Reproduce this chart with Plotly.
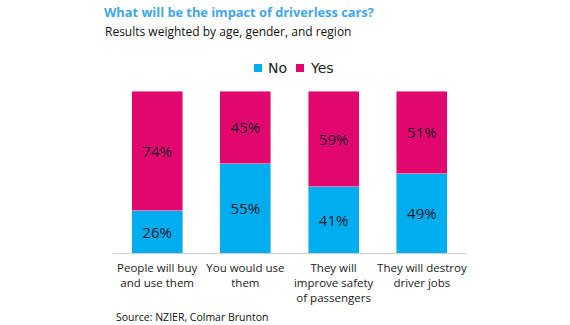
import plotly.graph_objects as go

categories = ["People will buy<br>and use them", "You would use<br>them",
              "They will<br>improve safety<br>of passengers", "They will destroy<br>driver jobs"]
no_vals = [26, 55, 41, 49]
yes_vals = [74, 45, 59, 51]
series_names = ["No", "Yes"]
series_colors = ["#00AEEF", "#E2076F"]

W, H = 570, 325
L, R, T, B = 113, 104, 91, 72
pw, ph = W - L - R, H - T - B

def px(x):
    return (x - L) / pw

def py(y):
    return (H - B - y) / ph

fig = go.Figure()
for name, vals, col in zip(series_names, [no_vals, yes_vals], series_colors):
    fig.add_bar(x=categories, y=vals, name=name, marker_color=col,
                text=[f"{v}%" for v in vals], textposition="inside",
                insidetextanchor="middle",
                textfont=dict(color="#1a1a2a", size=15, family="Open Sans"))

fig.update_layout(
    width=W, height=H, barmode="stack", bargap=0.42,
    margin=dict(l=L, r=R, t=T, b=B, pad=0, autoexpand=False),
    paper_bgcolor="white", plot_bgcolor="white",
    showlegend=False,
    font=dict(family="Open Sans", color="#222"),
)
fig.update_xaxes(showline=True, linecolor="#cfcfcf", linewidth=1, ticks="", tickangle=0,
                 automargin=False, ticklabelstandoff=4,
                 tickfont=dict(family="Open Sans", size=11.5, color="#222"), showgrid=False)
fig.update_yaxes(range=[0, 100], visible=False, showgrid=False, automargin=False)

# legend drawn manually (compact like the reference)
legend_x = [254, 296]
for name, col, lx in zip(series_names, series_colors, legend_x):
    fig.add_shape(type="rect", xref="paper", yref="paper",
                  x0=px(lx), x1=px(lx + 8), y0=py(72), y1=py(64),
                  fillcolor=col, line=dict(width=0))
    fig.add_annotation(text=name, xref="paper", yref="paper",
                       x=px(lx + 12), y=py(68), xanchor="left", yanchor="middle",
                       showarrow=False,
                       font=dict(family="DejaVu Sans", size=14, color="#222"))

fig.add_annotation(text="<b>What will be the impact of driverless cars?</b>", xref="paper", yref="paper",
                   x=px(102), y=py(12), xanchor="left", yanchor="middle", showarrow=False,
                   font=dict(family="Open Sans", size=12.8, color="#41A6EA"))
fig.add_annotation(text="Results weighted by age, gender, and region", xref="paper", yref="paper",
                   x=px(103), y=py(32), xanchor="left", yanchor="middle", showarrow=False,
                   font=dict(family="Open Sans", size=12, color="#111"))
fig.add_annotation(text="Source: NZIER, Colmar Brunton", xref="paper", yref="paper",
                   x=px(114), y=py(317), xanchor="left", yanchor="middle", showarrow=False,
                   font=dict(family="Open Sans", size=10.5, color="#111"))

fig.write_html("out.html")
